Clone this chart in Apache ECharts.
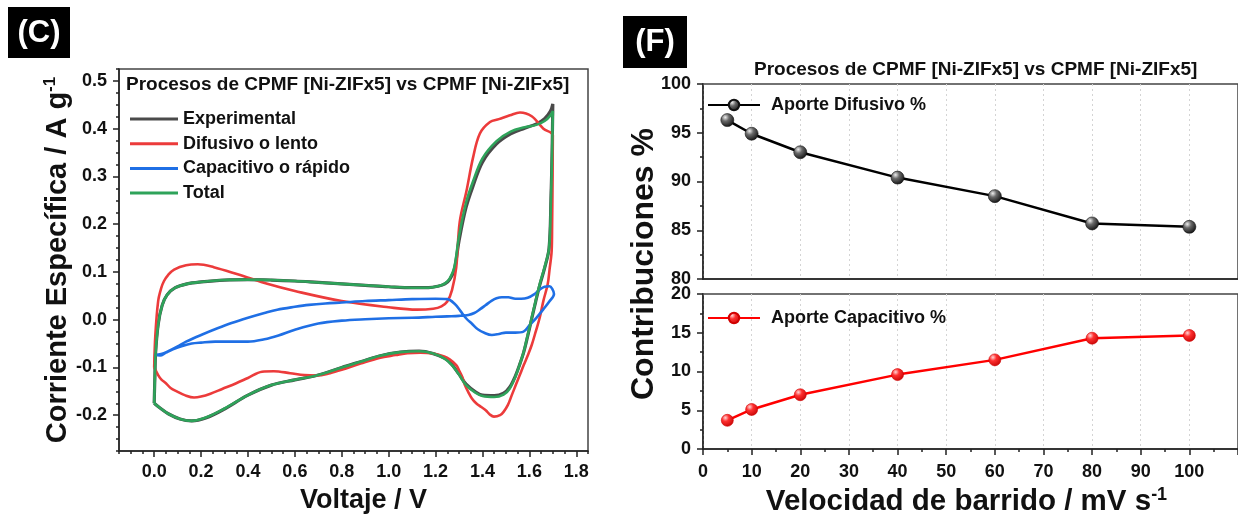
<!DOCTYPE html>
<html>
<head>
<meta charset="utf-8">
<script src="https://cdn.jsdelivr.net/npm/echarts@6/dist/echarts.min.js"></script>
<style>
  html, body { margin: 0; padding: 0; background: #ffffff; }
  #chart { width: 1238px; height: 521px; }
</style>
</head>
<body>
<div id="chart"></div>
<script>
// ---- Panel (C): cyclic voltammograms, potential (V) vs specific current (A g-1) ----
// Each loop runs 0 V -> 1.7 V (anodic) and back to 0 V (cathodic).
const expV = [0, 0.003, 0.006, 0.017, 0.034, 0.055, 0.09, 0.14, 0.20, 0.30, 0.40, 0.50, 0.60, 0.70, 0.80, 0.90, 1.00, 1.10, 1.17, 1.21, 1.24, 1.26, 1.28, 1.30, 1.33, 1.36, 1.40, 1.46, 1.52, 1.58, 1.63, 1.665, 1.69, 1.70,
  1.697, 1.692, 1.684, 1.665, 1.644, 1.627, 1.61, 1.593, 1.576, 1.56, 1.54, 1.515, 1.49, 1.45, 1.40, 1.37, 1.33, 1.30, 1.27, 1.24, 1.19, 1.13, 1.05, 0.96, 0.88, 0.80, 0.70, 0.60, 0.50, 0.40, 0.30, 0.22, 0.16, 0.11, 0.06, 0.025, 0];
const expI = [-0.175, -0.12, -0.07, -0.01, 0.03, 0.052, 0.067, 0.075, 0.079, 0.083, 0.084, 0.083, 0.081, 0.078, 0.075, 0.072, 0.069, 0.067, 0.067, 0.070, 0.075, 0.084, 0.105, 0.165, 0.235, 0.280, 0.330, 0.368, 0.389, 0.401, 0.410, 0.421, 0.437, 0.452,
  0.355, 0.252, 0.150, 0.108, 0.072, 0.038, 0.002, -0.034, -0.068, -0.092, -0.118, -0.142, -0.154, -0.159, -0.158, -0.151, -0.135, -0.114, -0.094, -0.081, -0.071, -0.066, -0.068, -0.076, -0.088, -0.100, -0.116, -0.126, -0.137, -0.158, -0.187, -0.206, -0.212, -0.208, -0.197, -0.185, -0.175];

const difV = [0, 0.005, 0.017, 0.03, 0.042, 0.06, 0.085, 0.136, 0.186, 0.254, 0.356, 0.49, 0.60, 0.80, 1.00, 1.12, 1.19, 1.225, 1.25, 1.27, 1.288, 1.303, 1.332, 1.36, 1.389, 1.432, 1.47, 1.517, 1.56, 1.61, 1.66, 1.70,
  1.699, 1.697, 1.695, 1.686, 1.678, 1.66, 1.644, 1.627, 1.61, 1.593, 1.576, 1.56, 1.542, 1.525, 1.508, 1.49, 1.475, 1.449, 1.43, 1.415, 1.395, 1.373, 1.355, 1.339, 1.325, 1.314, 1.30, 1.288, 1.26, 1.237, 1.19, 1.136, 1.08, 1.03, 0.96, 0.88, 0.80, 0.75, 0.695, 0.64, 0.58, 0.51, 0.46, 0.40, 0.35, 0.29, 0.24, 0.20, 0.17, 0.13, 0.10, 0.07, 0.05, 0.03, 0.017, 0];
const difI = [-0.100, -0.032, 0.039, 0.066, 0.081, 0.094, 0.105, 0.114, 0.116, 0.110, 0.095, 0.074, 0.060, 0.039, 0.026, 0.021, 0.023, 0.028, 0.038, 0.062, 0.109, 0.205, 0.270, 0.340, 0.390, 0.414, 0.420, 0.428, 0.434, 0.426, 0.400, 0.386,
  0.300, 0.200, 0.144, 0.105, 0.074, 0.040, 0.004, -0.025, -0.053, -0.075, -0.095, -0.115, -0.137, -0.158, -0.179, -0.193, -0.200, -0.203, -0.198, -0.190, -0.183, -0.175, -0.165, -0.151, -0.137, -0.120, -0.106, -0.095, -0.083, -0.077, -0.071, -0.069, -0.070, -0.074, -0.080, -0.092, -0.105, -0.112, -0.117, -0.116, -0.112, -0.108, -0.109, -0.122, -0.133, -0.145, -0.155, -0.161, -0.163, -0.158, -0.151, -0.143, -0.133, -0.125, -0.116, -0.100];

const capV = [0, 0.03, 0.06, 0.10, 0.136, 0.20, 0.27, 0.33, 0.40, 0.47, 0.525, 0.60, 0.66, 0.73, 0.80, 0.90, 1.00, 1.10, 1.20, 1.25, 1.28, 1.305, 1.33, 1.356, 1.38, 1.41, 1.44, 1.47, 1.50, 1.54, 1.575, 1.60, 1.63, 1.66, 1.685, 1.705,
  1.698, 1.686, 1.665, 1.644, 1.62, 1.593, 1.565, 1.54, 1.51, 1.483, 1.46, 1.44, 1.415, 1.39, 1.365, 1.34, 1.30, 1.25, 1.20, 1.10, 1.00, 0.90, 0.80, 0.70, 0.60, 0.53, 0.47, 0.40, 0.33, 0.26, 0.20, 0.16, 0.12, 0.08, 0.05, 0.025, 0];
const capI = [-0.074, -0.072, -0.066, -0.056, -0.046, -0.032, -0.018, -0.007, 0.004, 0.014, 0.021, 0.027, 0.031, 0.034, 0.036, 0.039, 0.041, 0.043, 0.044, 0.043, 0.034, 0.019, 0.003, -0.009, -0.020, -0.028, -0.032, -0.030, -0.027, -0.027, -0.025, -0.012, 0.004, 0.022, 0.038, 0.054,
  0.064, 0.070, 0.069, 0.063, 0.053, 0.046, 0.044, 0.044, 0.047, 0.047, 0.045, 0.040, 0.031, 0.022, 0.014, 0.010, 0.008, 0.007, 0.006, 0.004, 0.003, 0.001, -0.002, -0.008, -0.021, -0.033, -0.041, -0.046, -0.046, -0.046, -0.048, -0.050, -0.055, -0.062, -0.069, -0.075, -0.074];

const totV = [0, 0.003, 0.006, 0.017, 0.034, 0.055, 0.09, 0.14, 0.20, 0.30, 0.40, 0.50, 0.60, 0.70, 0.80, 0.90, 1.00, 1.10, 1.17, 1.21, 1.24, 1.26, 1.28, 1.30, 1.33, 1.36, 1.40, 1.46, 1.52, 1.58, 1.63, 1.665, 1.69, 1.70,
  1.697, 1.692, 1.684, 1.665, 1.644, 1.627, 1.61, 1.593, 1.576, 1.56, 1.54, 1.515, 1.49, 1.45, 1.40, 1.37, 1.33, 1.30, 1.27, 1.24, 1.19, 1.13, 1.05, 0.96, 0.88, 0.80, 0.70, 0.60, 0.50, 0.40, 0.30, 0.22, 0.16, 0.11, 0.06, 0.025, 0];
const totI = [-0.175, -0.12, -0.07, -0.01, 0.03, 0.052, 0.067, 0.075, 0.079, 0.083, 0.084, 0.083, 0.081, 0.078, 0.075, 0.072, 0.069, 0.067, 0.067, 0.070, 0.076, 0.086, 0.110, 0.175, 0.245, 0.290, 0.338, 0.374, 0.394, 0.403, 0.408, 0.416, 0.428, 0.437,
  0.350, 0.250, 0.150, 0.110, 0.074, 0.040, 0.004, -0.032, -0.067, -0.092, -0.120, -0.145, -0.157, -0.162, -0.160, -0.153, -0.137, -0.115, -0.095, -0.082, -0.071, -0.066, -0.068, -0.076, -0.088, -0.100, -0.116, -0.126, -0.137, -0.158, -0.186, -0.205, -0.212, -0.208, -0.197, -0.185, -0.175];

const voltTicks = [0, 0.2, 0.4, 0.6, 0.8, 1.0, 1.2, 1.4, 1.6, 1.8];
const currentTicks = [-0.2, -0.1, 0, 0.1, 0.2, 0.3, 0.4, 0.5];

// ---- Panel (F): diffusive vs capacitive share against scan rate ----
const scanRates = [5, 10, 20, 40, 60, 80, 100];
const diffusive = [96.3, 94.9, 93.0, 90.4, 88.5, 85.7, 85.35];
const capacitive = [3.7, 5.1, 7.0, 9.6, 11.5, 14.3, 14.65];

const seriesNames = ['Experimental', 'Difusivo o lento', 'Capacitivo o rápido', 'Total'];
const titleText = 'Procesos de CPMF [Ni-ZIFx5] vs CPMF [Ni-ZIFx5]';

const FONT = 'Arial, "Liberation Sans", sans-serif';
const pairs = (xs, ys) => xs.map((x, k) => [x, ys[k]]);

const axisLineStyle = { color: '#222', width: 1.5 };
const tickLabel = { color: '#111', fontFamily: FONT, fontWeight: 'bold', fontSize: 18 };

const blackBall = {
  type: 'radial', x: 0.35, y: 0.3, r: 0.8,
  colorStops: [{ offset: 0, color: '#eeeeee' }, { offset: 0.35, color: '#6a6a6a' }, { offset: 1, color: '#050505' }]
};
const redBall = {
  type: 'radial', x: 0.35, y: 0.3, r: 0.8,
  colorStops: [{ offset: 0, color: '#ffd6d6' }, { offset: 0.35, color: '#ff3030' }, { offset: 1, color: '#c00000' }]
};

const cvLine = (name, v, i, color, width, z) => ({
  name, type: 'line', xAxisIndex: 0, yAxisIndex: 0,
  data: pairs(v, i), smooth: 0.35, showSymbol: false, symbol: 'none', z,
  lineStyle: { color, width }, itemStyle: { color }
});

const chart = echarts.init(document.getElementById('chart'), null, { renderer: 'canvas' });

chart.setOption({
  backgroundColor: '#ffffff',
  animation: false,
  title: [
    { text: titleText, left: 126, top: 75, padding: 0,
      textStyle: { fontFamily: FONT, fontWeight: 'bold', fontSize: 19, color: '#111' } },
    { text: titleText, left: 754, top: 60, padding: 0,
      textStyle: { fontFamily: FONT, fontWeight: 'bold', fontSize: 19, color: '#111' } }
  ],
  legend: [
    { data: seriesNames, orient: 'vertical', left: 130, top: 110, padding: 0,
      icon: 'rect', itemWidth: 48, itemHeight: 3, itemGap: 6.7,
      textStyle: { fontFamily: FONT, fontWeight: 'bold', fontSize: 18, lineHeight: 18, color: '#111' } },
    { data: ['Aporte Difusivo %'], left: 707, top: 96, padding: 0,
      itemWidth: 52, itemHeight: 13,
      textStyle: { fontFamily: FONT, fontWeight: 'bold', fontSize: 18, color: '#111', padding: [0, 0, 0, 6] } },
    { data: ['Aporte Capacitivo %'], left: 707, top: 309, padding: 0,
      itemWidth: 52, itemHeight: 13,
      textStyle: { fontFamily: FONT, fontWeight: 'bold', fontSize: 18, color: '#111', padding: [0, 0, 0, 6] } }
  ],
  grid: [
    { left: 119, top: 69, width: 469, height: 382, show: true, borderColor: '#444', borderWidth: 1.5, backgroundColor: 'transparent' },
    { left: 703, top: 84, width: 561, height: 195, show: true, borderColor: '#444', borderWidth: 1.5, backgroundColor: 'transparent' },
    { left: 703, top: 294, width: 561, height: 155, show: true, borderColor: '#444', borderWidth: 1.5, backgroundColor: 'transparent' }
  ],
  xAxis: [
    { // potential, major ticks and labels
      type: 'value', gridIndex: 0, min: -0.15, max: 1.85,
      axisLine: { onZero: false, lineStyle: axisLineStyle },
      axisTick: { customValues: voltTicks, length: 6, lineStyle: axisLineStyle },
      axisLabel: { customValues: voltTicks, margin: 12, formatter: v => v.toFixed(1), ...tickLabel },
      splitLine: { show: false },
      name: 'Voltaje / V', nameLocation: 'middle', nameGap: 36,
      nameTextStyle: { fontFamily: FONT, fontWeight: 'bold', fontSize: 27, color: '#111', padding: [0, 0, 0, 20] }
    },
    { // potential, minor ticks
      type: 'value', gridIndex: 0, min: -0.15, max: 1.85, interval: 0.05, position: 'bottom',
      axisLine: { show: false, onZero: false }, axisLabel: { show: false }, splitLine: { show: false },
      axisTick: { length: 3, lineStyle: axisLineStyle }
    },
    { // scan rate, upper panel
      type: 'value', gridIndex: 1, min: 0, max: 110, interval: 10,
      axisLine: { onZero: false, lineStyle: axisLineStyle }, axisTick: { show: false }, axisLabel: { show: false },
      splitLine: { show: true, lineStyle: { color: '#d4d4d4', type: [2, 3], width: 1 } }
    },
    { // scan rate, lower panel
      type: 'value', gridIndex: 2, min: 0, max: 110, interval: 10,
      axisLine: { onZero: false, lineStyle: axisLineStyle },
      axisTick: { length: 6, lineStyle: axisLineStyle },
      minorTick: { show: true, splitNumber: 2, length: 3, lineStyle: axisLineStyle },
      axisLabel: { margin: 14, showMaxLabel: false, ...tickLabel },
      splitLine: { show: true, lineStyle: { color: '#d4d4d4', type: [2, 3], width: 1 } },
      name: 'Velocidad de barrido / mV s{sup|-1}', nameLocation: 'middle', nameGap: 37,
      nameTextStyle: {
        fontFamily: FONT, fontWeight: 'bold', fontSize: 29.5, color: '#111', padding: [0, 8, 0, 0],
        rich: { sup: { fontFamily: FONT, fontWeight: 'bold', fontSize: 18, color: '#111', padding: [0, 0, 14, 0] } }
      }
    }
  ],
  yAxis: [
    { // specific current, major ticks and labels
      type: 'value', gridIndex: 0, min: -0.275, max: 0.525,
      axisLine: { onZero: false, lineStyle: axisLineStyle },
      axisTick: { customValues: currentTicks, length: 6, lineStyle: axisLineStyle },
      axisLabel: { customValues: currentTicks, margin: 12, formatter: v => v.toFixed(1), ...tickLabel },
      splitLine: { show: false },
      name: 'Corriente Específica / A g{sup|-1}', nameLocation: 'middle', nameGap: 46,
      nameTextStyle: {
        fontFamily: FONT, fontWeight: 'bold', fontSize: 29, color: '#111',
        rich: { sup: { fontFamily: FONT, fontWeight: 'bold', fontSize: 17, color: '#111', padding: [0, 0, 14, 0] } }
      }
    },
    { // specific current, minor ticks
      type: 'value', gridIndex: 0, min: -0.275, max: 0.525, interval: 0.025, position: 'left',
      axisLine: { show: false, onZero: false }, axisLabel: { show: false }, splitLine: { show: false },
      axisTick: { length: 3, lineStyle: axisLineStyle }
    },
    { // diffusive share
      type: 'value', gridIndex: 1, min: 80, max: 100, interval: 5,
      axisLine: { onZero: false, lineStyle: axisLineStyle },
      axisTick: { length: 6, lineStyle: axisLineStyle },
      minorTick: { show: true, splitNumber: 2, length: 3, lineStyle: axisLineStyle },
      axisLabel: { margin: 12, ...tickLabel },
      splitLine: { show: false }
    },
    { // capacitive share
      type: 'value', gridIndex: 2, min: 0, max: 20, interval: 5,
      axisLine: { onZero: false, lineStyle: axisLineStyle },
      axisTick: { length: 6, lineStyle: axisLineStyle },
      minorTick: { show: true, splitNumber: 2, length: 3, lineStyle: axisLineStyle },
      axisLabel: { margin: 12, ...tickLabel },
      splitLine: { show: false }
    }
  ],
  graphic: [
    { type: 'rect', left: 8, top: 7, shape: { width: 62, height: 51 }, style: { fill: '#000' } },
    { type: 'text', x: 39, y: 33, style: { text: '(C)', fill: '#fff', font: 'bold 31px ' + FONT, align: 'center', verticalAlign: 'middle' } },
    { type: 'rect', left: 623, top: 16, shape: { width: 64, height: 52 }, style: { fill: '#000' } },
    { type: 'text', x: 655, y: 42, style: { text: '(F)', fill: '#fff', font: 'bold 31px ' + FONT, align: 'center', verticalAlign: 'middle' } },
    { type: 'text', x: 644, y: 264, rotation: Math.PI / 2,
      style: { text: 'Contribuciones %', fill: '#111', font: 'bold 32px ' + FONT, align: 'center', verticalAlign: 'middle' } }
  ],
  series: [
    cvLine(seriesNames[0], expV, expI, '#4a4a4a', 3.2, 2),
    cvLine(seriesNames[1], difV, difI, '#ec3b3b', 2.6, 3),
    cvLine(seriesNames[2], capV, capI, '#1f6fe5', 2.6, 4),
    cvLine(seriesNames[3], totV, totI, '#2ea35a', 2.6, 5),
    {
      name: 'Aporte Difusivo %', type: 'line', xAxisIndex: 2, yAxisIndex: 2,
      data: pairs(scanRates, diffusive), symbol: 'circle', symbolSize: 13,
      lineStyle: { color: '#000', width: 2.5 },
      itemStyle: { color: blackBall, borderColor: '#111', borderWidth: 0.6 }
    },
    {
      name: 'Aporte Capacitivo %', type: 'line', xAxisIndex: 3, yAxisIndex: 3,
      data: pairs(scanRates, capacitive), symbol: 'circle', symbolSize: 12,
      lineStyle: { color: '#ff0000', width: 2.5 },
      itemStyle: { color: redBall, borderColor: '#d00000', borderWidth: 0.6 }
    }
  ]
});
</script>
</body>
</html>
